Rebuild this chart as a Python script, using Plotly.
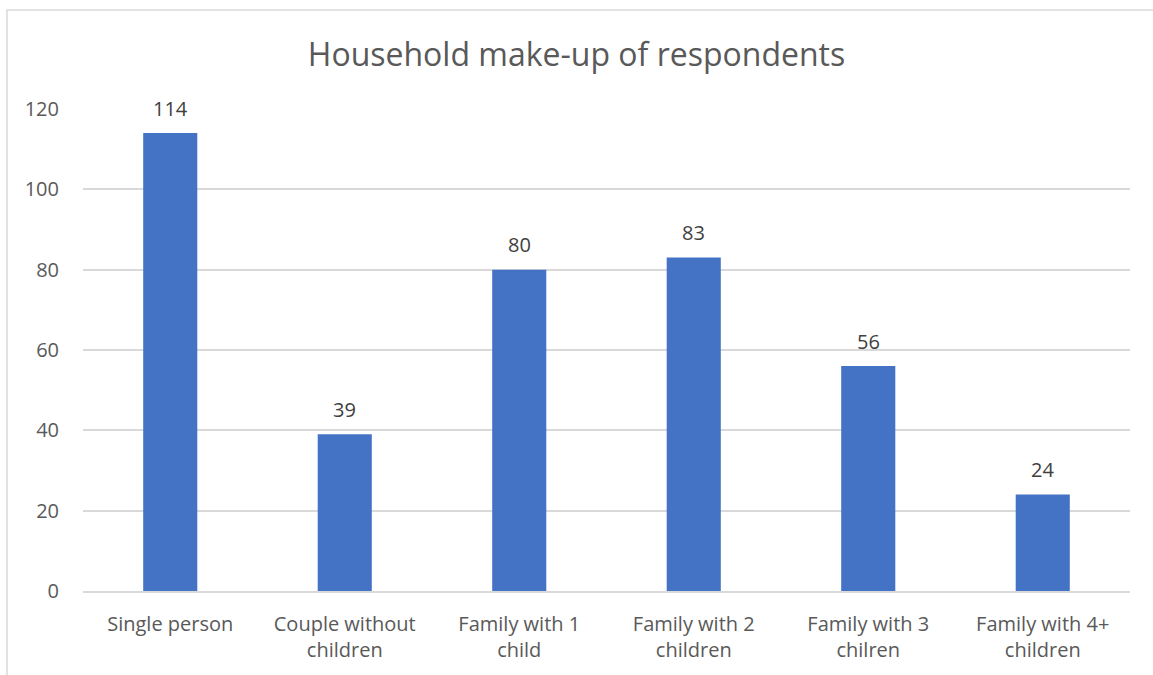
import plotly.graph_objects as go

categories = ["Single person", "Couple without<br>children", "Family with 1<br>child",
              "Family with 2<br>children", "Family with 3<br>chilren", "Family with 4+<br>children"]
values = [114, 39, 80, 83, 56, 24]
y_ticks = [0, 20, 40, 60, 80, 100, 120]

W, H = 1153, 675
L, R, T, B = 83, 23, 109, 84
pw, ph = W - L - R, H - T - B

fig = go.Figure(go.Bar(
    x=categories, y=values,
    marker=dict(color="#4472C4", line=dict(width=0)),
    width=0.31,
    hoverinfo="x+y",
))

for c, v in zip(categories, values):
    fig.add_annotation(x=c, y=v, text=str(v), showarrow=False, yshift=25,
                       yanchor="middle", xanchor="center",
                       font=dict(family="Open Sans", size=20, color="#404040"))

fig.update_layout(
    width=W, height=H,
    margin=dict(l=L, r=R, t=T, b=B, autoexpand=False),
    paper_bgcolor="white", plot_bgcolor="white",
    font=dict(family="Open Sans", color="#595959"),
    title=dict(text="Household make-up of respondents", x=0.5, xanchor="center",
               y=1 - 55 / H, yanchor="middle",
               font=dict(family="Open Sans", size=32, color="#595959")),
    xaxis=dict(showgrid=False, showline=True, linecolor="#D9D9D9", linewidth=1.5,
               ticks="", tickfont=dict(size=20, color="#595959"), ticklabelstandoff=14),
    yaxis=dict(range=[0, 120], tickvals=y_ticks, showgrid=True, gridcolor="#D9D9D9",
               gridwidth=1.5, zeroline=False, showline=False, ticks="",
               tickfont=dict(size=20, color="#595959"), ticklabelstandoff=23),
    showlegend=False,
    bargap=0.69,
    shapes=[dict(type="rect", xref="paper", yref="paper",
                 x0=(7 - L) / pw, x1=(W + 5 - L) / pw,
                 y0=-(B + 5) / ph,
                 y1=(H - B - 10) / ph,
                 line=dict(color="#D9D9D9", width=1.5), fillcolor="rgba(0,0,0,0)",
                 layer="below")],
)

fig.write_html("out.html")
